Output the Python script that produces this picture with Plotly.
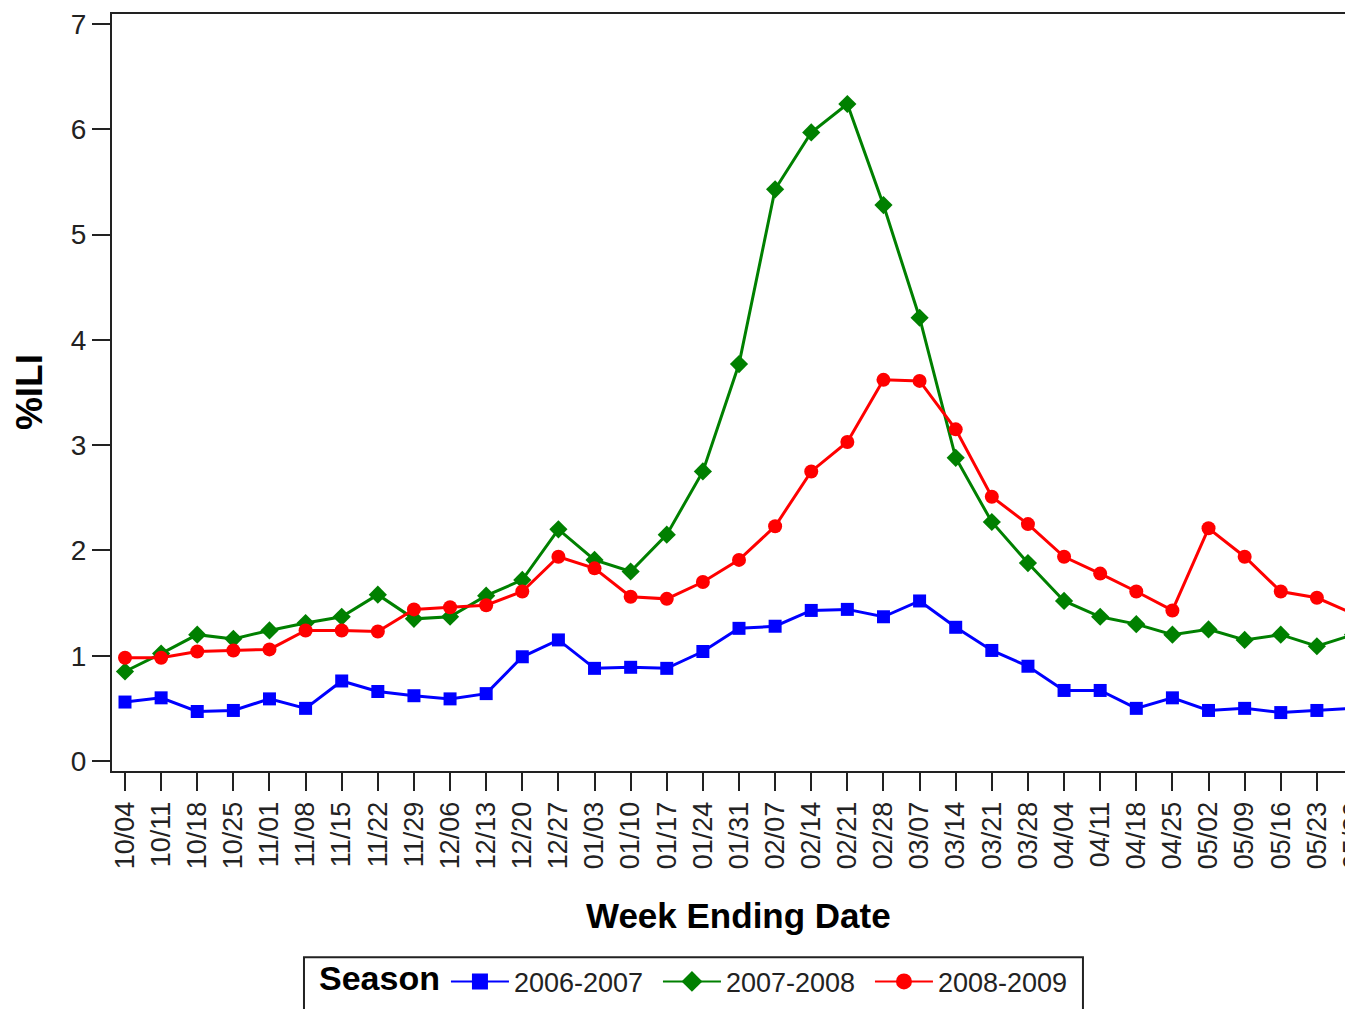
import plotly.graph_objects as go

weeks = ["10/04", "10/11", "10/18", "10/25", "11/01", "11/08", "11/15", "11/22",
         "11/29", "12/06", "12/13", "12/20", "12/27", "01/03", "01/10", "01/17",
         "01/24", "01/31", "02/07", "02/14", "02/21", "02/28", "03/07", "03/14",
         "03/21", "03/28", "04/04", "04/11", "04/18", "04/25", "05/02", "05/09",
         "05/16", "05/23", "05/30"]

season_0607 = [0.56, 0.60, 0.47, 0.48, 0.59, 0.50, 0.76, 0.66,
               0.62, 0.59, 0.64, 0.99, 1.15, 0.88, 0.89, 0.88,
               1.04, 1.26, 1.28, 1.43, 1.44, 1.37, 1.52, 1.27,
               1.05, 0.90, 0.67, 0.67, 0.50, 0.60, 0.48, 0.50,
               0.46, 0.48, 0.50]

season_0708 = [0.85, 1.02, 1.20, 1.16, 1.24, 1.31, 1.37, 1.58,
               1.35, 1.37, 1.57, 1.72, 2.20, 1.91, 1.80, 2.15,
               2.75, 3.77, 5.43, 5.97, 6.24, 5.28, 4.21, 2.88,
               2.27, 1.88, 1.52, 1.37, 1.30, 1.20, 1.25, 1.15,
               1.20, 1.09, 1.20]

season_0809 = [0.98, 0.98, 1.04, 1.05, 1.06, 1.24, 1.24, 1.23,
               1.44, 1.46, 1.48, 1.61, 1.94, 1.83, 1.56, 1.54,
               1.70, 1.91, 2.23, 2.75, 3.03, 3.62, 3.61, 3.15,
               2.51, 2.25, 1.94, 1.78, 1.61, 1.43, 2.21, 1.94,
               1.61, 1.55, 1.40]

season_names = ["2006-2007", "2007-2008", "2008-2009"]
y_ticks = [0, 1, 2, 3, 4, 5, 6, 7]

colors = ["#0000FF", "#008000", "#FF0000"]
symbols = ["square", "diamond", "circle"]
sizes = [13, 14, 14]

REG = "Liberation Sans, Arial, sans-serif"
BOLD = "Liberation Sans, Arial, sans-serif"

fig = go.Figure()
for name, vals, c, s, sz in zip(season_names, [season_0607, season_0708, season_0809],
                                colors, symbols, sizes):
    fig.add_trace(go.Scatter(
        x=weeks, y=vals, mode="lines+markers", name=name, showlegend=False,
        line=dict(color=c, width=3),
        marker=dict(symbol=s, size=sz, color=c),
        cliponaxis=False,
    ))
for name, c, s in zip(season_names, colors, symbols):
    fig.add_trace(go.Scatter(
        x=[None], y=[None], mode="lines+markers", name=name,
        line=dict(color=c, width=2),
        marker=dict(symbol=s, size=16, color=c),
    ))

# page body has an 8px default margin, so the figure is 8px smaller
W, H = 1345, 1001
L, R, T = 104, 0, 6
B = 238

fig.update_layout(
    width=W, height=H,
    margin=dict(l=L, r=R, t=T, b=B, autoexpand=False),
    paper_bgcolor="white", plot_bgcolor="white",
    font=dict(family=REG, size=28, color="#222"),
    xaxis=dict(
        type="category", categoryorder="array", categoryarray=weeks,
        range=[-0.36, 34.0], tickangle=-90,
        showline=True, linecolor="#222", linewidth=2, mirror=True,
        ticks="outside", ticklen=18, tickwidth=2, tickcolor="#222",
        showgrid=False, zeroline=False,
        tickfont=dict(family=REG, size=27, color="#222"),
    ),
    yaxis=dict(
        range=[-0.095, 7.095], tickvals=y_ticks,
        showline=True, linecolor="#222", linewidth=2, mirror=False,
        ticks="outside", ticklen=18, tickwidth=2, tickcolor="#222",
        showgrid=False, zeroline=False,
        tickfont=dict(family=REG, size=28, color="#222"),
    ),
    legend=dict(
        orientation="h", x=0.2691, xanchor="left", y=-0.2462, yanchor="top",
        borderwidth=0, bgcolor="rgba(0,0,0,0)",
        font=dict(family=REG, size=27, color="#222"),
        itemwidth=58, tracegroupgap=0,
        entrywidth=139, entrywidthmode="pixels",
    ),
    shapes=[
        dict(type="rect", xref="paper", yref="paper",
             x0=0.1547, x1=0.7824, y0=-0.2462, y1=-0.3295,
             line=dict(color="#222", width=2), fillcolor="rgba(0,0,0,0)", layer="below"),
    ],
    annotations=[
        dict(text="<b>Week Ending Date</b>", xref="paper", yref="paper",
             x=0.505, y=-0.1907, xanchor="center", yanchor="middle", showarrow=False,
             font=dict(family=BOLD, size=35, color="black")),
        dict(text="<b>%ILI</b>", xref="paper", yref="paper",
             x=-0.0669, y=0.5005, xanchor="center", yanchor="middle", showarrow=False,
             textangle=-90, font=dict(family=BOLD, size=37, color="black")),
        dict(text="<b>Season</b>", xref="paper", yref="paper",
             x=0.1652, y=-0.274, xanchor="left", yanchor="middle", showarrow=False,
             font=dict(family=BOLD, size=34, color="black")),
    ],
)

fig.write_html("out.html")
